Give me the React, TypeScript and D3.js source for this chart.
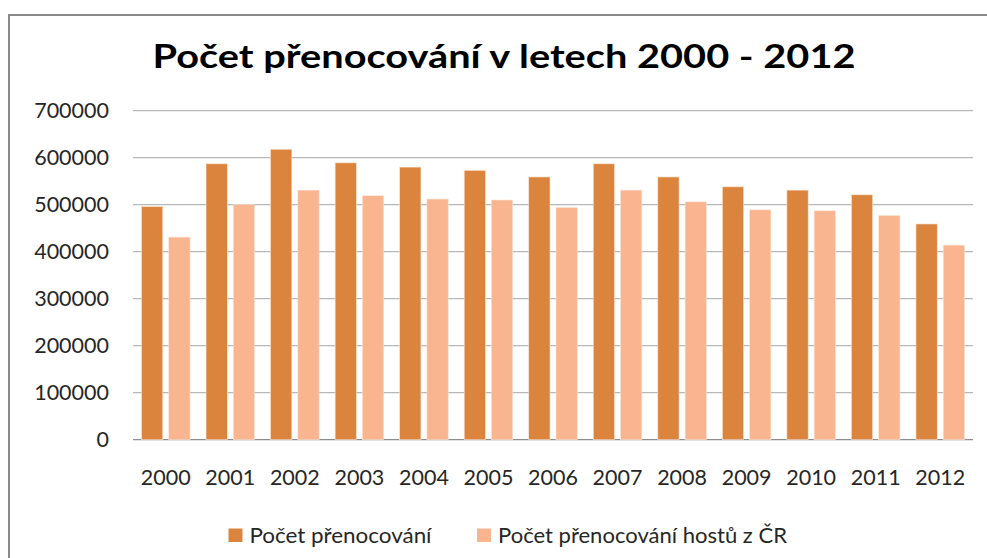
import React from 'react';
import * as d3 from 'd3';

const years = ['2000', '2001', '2002', '2003', '2004', '2005', '2006', '2007', '2008', '2009', '2010', '2011', '2012'];
const seriesNames = ['Počet přenocování', 'Počet přenocování hostů z ČR'];
const totalNights = [496000, 587000, 618000, 589000, 580000, 573000, 559000, 587000, 559000, 538000, 531000, 521000, 459000];
const czechNights = [431000, 500000, 531000, 519000, 512000, 510000, 494000, 531000, 506000, 489000, 487000, 477000, 414000];
const yTicks = [0, 100000, 200000, 300000, 400000, 500000, 600000, 700000];

const colors = ['#DA843E', '#F8B590'];
const font = 'Lato, "Open Sans", sans-serif';

export default function App() {
  const width = 987;
  const height = 558;

  // plot area
  const x0 = d3.scaleBand<string>()
    .domain(years)
    .range([133.5, 972.5])
    .paddingInner(0.248)
    .paddingOuter(0.124);
  const x1 = d3.scaleBand<string>()
    .domain(seriesNames)
    .range([0, x0.bandwidth()])
    .paddingInner(0.22);
  const y = d3.scaleLinear().domain([0, 700000]).range([439.7, 110.7]);

  const values = [totalNights, czechNights];
  // legend entries: swatch x and text width
  const legendX = [228.5, 477];
  const legendW = [182, 289];

  return (
    <svg width={width} height={height} style={{position: 'absolute', left: 0, top: 0}} fontFamily={font}>
      <rect width={width} height={height} fill="#fff" />
      {/* chart frame, runs off to the right and bottom */}
      <path d={`M9,${height + 5} V15 H${width + 5}`} fill="none" stroke="#8a8a8a" strokeWidth={2} />

      <text x={504} y={67.5} textAnchor="middle" fontSize={32} fontWeight="bold" fill="#000"
        textLength={703} lengthAdjust="spacingAndGlyphs">
        Počet přenocování v letech 2000 - 2012
      </text>

      {/* gridlines and y labels */}
      {yTicks.map(t => (
        <g key={t}>
          <line x1={133} x2={973} y1={y(t)} y2={y(t)} stroke={t === 0 ? '#8c8c8c' : '#b8b8b8'} strokeWidth={1.3} />
          <text x={109} y={y(t)} dy="0.35em" textAnchor="end" fontSize={21.5} fill="#262626">{t}</text>
        </g>
      ))}

      {/* bars */}
      {years.map((yr, i) => (
        <g key={yr} transform={`translate(${x0(yr)},0)`}>
          {seriesNames.map((s, k) => (
            <rect key={s}
              x={x1(s)}
              y={y(values[k][i])}
              width={x1.bandwidth()}
              height={y(0) - y(values[k][i])}
              fill={colors[k]}
              stroke="#fbe3d2"
              strokeWidth={0.6} />
          ))}
        </g>
      ))}

      {/* x labels */}
      {years.map(yr => (
        <text key={yr} x={(x0(yr) as number) + x0.bandwidth() / 2} y={477} dy="0.35em"
          textAnchor="middle" fontSize={21.5} fill="#262626">{yr}</text>
      ))}

      {/* legend */}
      {seriesNames.map((s, k) => (
        <g key={s}>
          <rect x={legendX[k]} y={528.5} width={14} height={13.5} fill={colors[k]} />
          <text x={legendX[k] + 21} y={535} dy="0.35em" fontSize={21.5} fill="#262626"
            textLength={legendW[k]} lengthAdjust="spacingAndGlyphs">{s}</text>
        </g>
      ))}
    </svg>
  );
}
